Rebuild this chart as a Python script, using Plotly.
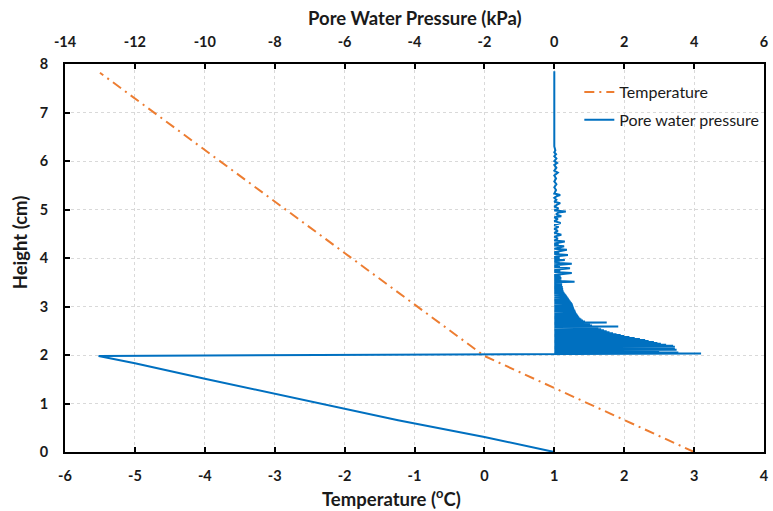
import plotly.graph_objects as go

# Temperature profile (bottom axis, degC) vs height (cm)
temp_height = [0.0, 1.98, 7.82]
temp_c = [3.0, 0.0, -5.5]

# Pore water pressure (top axis, kPa) vs height (cm)
pwp_height = [
    0.0, 0.31, 0.655, 0.89, 1.21, 1.51, 1.83, 1.98, 2.03,
    2.04, 2.05, 2.06, 2.07, 2.08, 2.09, 2.10, 2.11, 2.12, 2.13,
    2.14, 2.15, 2.16, 2.17, 2.18, 2.19, 2.20, 2.21, 2.22, 2.23,
    2.24, 2.25, 2.26, 2.27, 2.28, 2.29, 2.30, 2.31, 2.32, 2.33,
    2.34, 2.35, 2.36, 2.37, 2.38, 2.39, 2.40, 2.41, 2.42, 2.43,
    2.44, 2.45, 2.46, 2.47, 2.48, 2.49, 2.50, 2.51, 2.52, 2.53,
    2.54, 2.55, 2.56, 2.57, 2.58, 2.59, 2.60, 2.61, 2.62, 2.63,
    2.64, 2.65, 2.66, 2.67, 2.68, 2.69, 2.70, 2.71, 2.72, 2.73,
    2.74, 2.75, 2.76, 2.77, 2.78, 2.79, 2.80, 2.81, 2.82, 2.83,
    2.84, 2.85, 2.86, 2.87, 2.88, 2.89, 2.90, 2.91, 2.92, 2.93,
    2.94, 2.95, 2.96, 2.97, 2.98, 2.99, 3.00, 3.01, 3.02, 3.03,
    3.04, 3.05, 3.06, 3.07, 3.08, 3.09, 3.10, 3.11, 3.12, 3.13,
    3.14, 3.15, 3.16, 3.17, 3.18, 3.19, 3.20, 3.21, 3.22, 3.23,
    3.24, 3.25, 3.26, 3.27, 3.28, 3.29, 3.30,
    3.32, 3.34, 3.36, 3.38, 3.40, 3.42, 3.44, 3.46, 3.48, 3.50,
    3.51, 3.53, 3.55, 3.57, 3.59, 3.61, 3.63, 3.65, 3.67, 3.69,
    3.71, 3.73, 3.75, 3.77, 3.79, 3.81, 3.83, 3.85, 3.88, 3.90,
    3.92, 3.94, 3.96, 3.98, 4.00, 4.02, 4.04, 4.06, 4.08, 4.10,
    4.12, 4.14, 4.17, 4.19, 4.21, 4.24, 4.26, 4.28, 4.30, 4.34,
    4.36, 4.40, 4.44, 4.48, 4.52, 4.56, 4.60, 4.64, 4.68, 4.72,
    4.76, 4.80, 4.84, 4.86, 4.90, 4.94, 4.96, 4.98, 5.02, 5.06,
    5.10, 5.13, 5.16, 5.20, 5.24, 5.28, 5.30, 5.33, 5.40, 5.46,
    5.52, 5.58, 5.64, 5.70, 5.76, 5.80, 5.86, 5.92, 5.96, 6.00,
    6.05, 6.10, 6.14, 6.18, 6.22, 6.30, 7.85,
]
pwp_kpa = [
    0.0, -2.0, -4.47, -6.0, -8.0, -10.0, -12.0, -13.04, 4.2,
    0.0, 3.55, 0.0, 3.0, 0.0, 2.58, 0.0, 3.5, 0.0, 1.87,
    0.0, 3.45, 0.0, 3.45, 0.0, 3.4, 0.0, 3.2, 0.0, 3.05,
    0.0, 2.95, 0.0, 2.85, 0.0, 2.7, 0.0, 2.6, 0.0, 2.45,
    0.0, 2.3, 0.0, 2.15, 0.0, 2.0, 0.0, 1.9, 0.0, 1.78,
    0.0, 1.68, 0.0, 1.58, 0.0, 1.5, 0.0, 1.42, 0.0, 1.34,
    0.0, 1.26, 0.0, 1.18, 0.0, 1.83, 0.0, 1.08, 0.0, 1.02,
    0.0, 0.96, 0.0, 1.5, 0.0, 0.88, 0.0, 0.82, 0.0, 0.78,
    0.0, 0.75, 0.0, 0.72, 0.0, 0.7, 0.0, 0.68, 0.0, 0.66,
    0.0, 0.64, 0.0, 0.62, 0.0, 0.61, 0.0, 0.6, 0.0, 0.58,
    0.0, 0.57, 0.0, 0.56, 0.0, 0.55, 0.0, 0.54, 0.0, 0.53,
    0.0, 0.52, 0.0, 0.5, 0.0, 0.48, 0.0, 0.46, 0.0, 0.44,
    0.0, 0.42, 0.0, 0.4, 0.0, 0.38, 0.0, 0.36, 0.0, 0.34,
    0.0, 0.32, 0.0, 0.3, 0.0, 0.28, 0.0,
    0.26, 0.0, 0.25, 0.0, 0.24, 0.0, 0.22, 0.0, 0.22, 0.0,
    0.58, 0.0, 0.2, 0.0, 0.2, 0.0, 0.18, 0.0, 0.18, 0.5,
    0.0, 0.17, 0.0, 0.16, 0.45, 0.0, 0.16, 0.0, 0.5, 0.0,
    0.15, 0.0, 0.3, 0.0, 0.15, 0.0, 0.14, 0.39, 0.0, 0.14,
    0.0, 0.13, 0.36, 0.0, 0.12, 0.28, 0.0, 0.12, 0.0, 0.3,
    0.0, 0.1, 0.0, 0.2, 0.0, 0.1, 0.0, 0.12, 0.0, 0.18,
    0.0, 0.1, 0.0, 0.2, 0.05, 0.12, 0.33, 0.0, 0.12, 0.0,
    0.08, 0.17, 0.0, 0.06, 0.0, 0.08, 0.17, 0.0, 0.05, 0.0,
    0.06, 0.0, 0.05, 0.0, 0.1, 0.0, 0.06, 0.0, 0.08, 0.0,
    0.06, 0.0, 0.05, 0.0, 0.03, 0.0, 0.0,
]

temp_ticks = [-6, -5, -4, -3, -2, -1, 0, 1, 2, 3, 4]
pwp_ticks = [-14, -12, -10, -8, -6, -4, -2, 0, 2, 4, 6]
height_ticks = [0, 1, 2, 3, 4, 5, 6, 7, 8]

ORANGE = "#ED7D31"
BLUE = "#0070C0"
FONT = "Lato, 'Open Sans', sans-serif"
TXT = "#1a1a1a"

fig = go.Figure()
fig.add_trace(go.Scatter(
    x=temp_c, y=temp_height, mode="lines", name="Temperature",
    legendgroup="t",
    line=dict(color=ORANGE, width=2, dash="10px,5px,2px,5px"), xaxis="x",
))
fig.add_trace(go.Scatter(
    x=pwp_kpa, y=pwp_height, mode="lines", name="Pore water pressure",
    legendgroup="p",
    line=dict(color=BLUE, width=2), xaxis="x2",
))

L, R, T, B = 65, 4, 64, 59
W, H = 773, 511
pw, ph = W - L - R, H - T - B

def px(xp):
    return (xp - L) / pw

def py(yp):
    return (H - B - yp) / ph

def labels(vals):
    return [str(v) for v in vals]

tickfont = dict(family=FONT, size=14.5, color=TXT, weight="bold")
axis_common = dict(
    showline=True, linecolor="black", linewidth=2,
    ticks="inside", ticklen=5, tickwidth=1.5, tickcolor="black",
    tickfont=tickfont, zeroline=False,
)

title_font = dict(family=FONT, size=18.5, color=TXT, weight="bold")

fig.update_layout(
    width=W, height=H,
    margin=dict(l=L, r=R, t=T, b=B),
    plot_bgcolor="white", paper_bgcolor="white",
    xaxis=dict(range=[-6, 4], tickvals=temp_ticks, ticktext=labels(temp_ticks),
               showgrid=True, gridcolor="#D9D9D9", griddash="dot", gridwidth=1,
               ticklabelstandoff=10, **axis_common),
    xaxis2=dict(range=[-14, 6], tickvals=pwp_ticks, ticktext=labels(pwp_ticks),
                overlaying="x", side="top", showgrid=False,
                ticklabelstandoff=9, **axis_common),
    yaxis=dict(range=[0, 8], tickvals=height_ticks, ticktext=labels(height_ticks),
               showgrid=True, gridcolor="#D9D9D9", griddash="dot", gridwidth=1,
               mirror=True, ticklabelstandoff=12, **axis_common),
    showlegend=True,
    legend=dict(x=px(583), y=py(75), xanchor="left", yanchor="top",
                bgcolor="rgba(0,0,0,0)", itemwidth=30, tracegroupgap=4,
                font=dict(family=FONT, size=16, color=TXT)),
    annotations=[
        dict(text="Pore Water Pressure (kPa)", x=px(417), y=py(18),
             xref="paper", yref="paper", xanchor="center", yanchor="middle",
             showarrow=False, font=title_font),
        dict(text="Temperature (<sup>o</sup>C)", x=px(394), y=py(497),
             xref="paper", yref="paper", xanchor="center", yanchor="middle",
             showarrow=False, font=title_font),
        dict(text="Height (cm)", x=px(20), y=py(242), textangle=-90,
             xref="paper", yref="paper", xanchor="center", yanchor="middle",
             showarrow=False, font=title_font),
    ],
)

fig.write_html("out.html")
